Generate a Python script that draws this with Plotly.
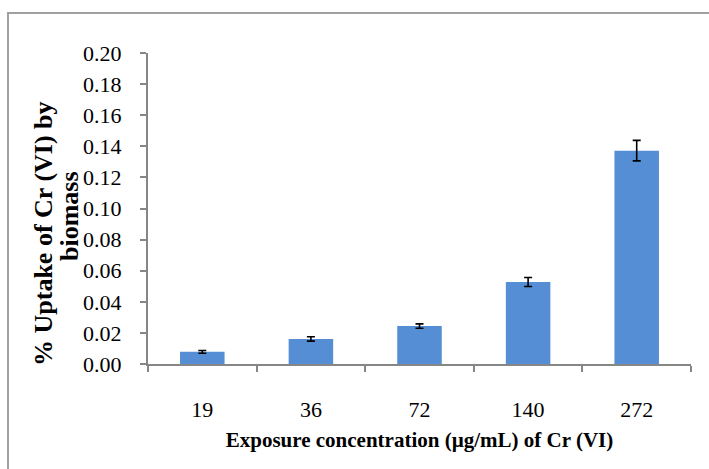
import plotly.graph_objects as go

categories = ["19", "36", "72", "140", "272"]
uptake = [0.0078, 0.0161, 0.0244, 0.0527, 0.1372]
errors = [0.0009, 0.0014, 0.0014, 0.0029, 0.0066]
y_ticks = [0.00, 0.02, 0.04, 0.06, 0.08, 0.10, 0.12, 0.14, 0.16, 0.18, 0.20]
y_title_lines = ["% Uptake of Cr (VI) by", "biomass"]

W, H = 709, 469
L, R, T, B = 148, 18, 53, 105
pw, ph = W - L - R, H - T - B

def px(x):
    return (x - L) / pw

def py(y):
    return (H - B - y) / ph

serif = "Liberation Serif, Times New Roman, serif"

fig = go.Figure()
fig.add_trace(go.Bar(
    x=categories, y=uptake,
    marker=dict(color="#558ed5", line=dict(width=0)),
    width=0.41,
    error_y=dict(type="data", array=errors, visible=True,
                 color="#000000", thickness=1.6, width=4),
))

title_pos = [(43, 234), (69, 216)]
annotations = [dict(
    text="<b>%s</b>" % line,
    xref="paper", yref="paper", x=px(cx), y=py(cy),
    xanchor="center", yanchor="middle", textangle=-90,
    showarrow=False, font=dict(family=serif, size=26),
) for line, (cx, cy) in zip(y_title_lines, title_pos)]

fig.update_layout(
    width=W, height=H,
    margin=dict(l=L, r=R, t=T, b=B, pad=0),
    paper_bgcolor="white", plot_bgcolor="white",
    showlegend=False,
    font=dict(family=serif, size=22, color="black"),
    xaxis=dict(
        type="category", showgrid=False, zeroline=False,
        showline=True, linecolor="#868686", linewidth=2,
        ticks="outside", tickson="boundaries", ticklen=6,
        tickcolor="#868686", tickwidth=2,
        ticklabelstandoff=25,
        tickfont=dict(family=serif, size=22),
        title=dict(text="<b>Exposure concentration (µg/mL) of Cr (VI)</b>",
                   font=dict(family=serif, size=21), standoff=11),
    ),
    yaxis=dict(
        range=[0, 0.2], tickvals=y_ticks, tickformat=".2f",
        showgrid=False, zeroline=False,
        showline=True, linecolor="#868686", linewidth=2,
        ticks="outside", ticklen=6, tickcolor="#868686", tickwidth=1.5,
        ticklabelstandoff=14,
        tickfont=dict(family=serif, size=22),
    ),
    shapes=[dict(
        type="rect", xref="paper", yref="paper",
        x0=px(8), x1=px(W + 20), y0=py(H + 20), y1=py(13),
        line=dict(color="#a0a0a0", width=2), fillcolor="rgba(0,0,0,0)",
        layer="below",
    )],
    annotations=annotations,
)

fig.write_html("out.html")
